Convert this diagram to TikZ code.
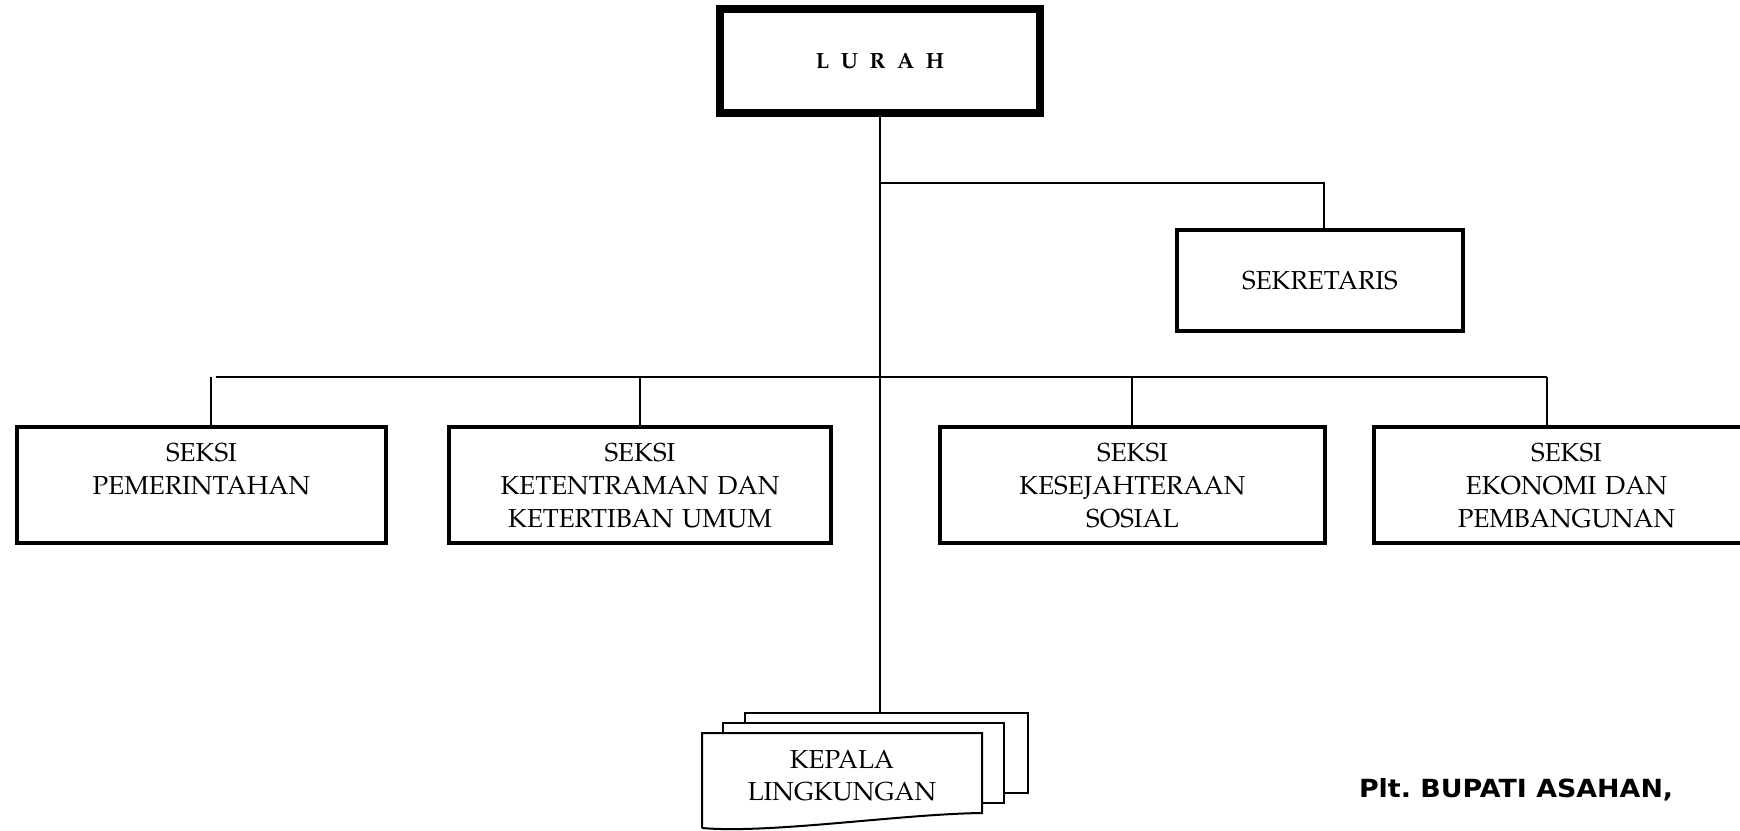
\documentclass[tikz,border=0pt]{standalone}
\usepackage[T1]{fontenc}
\usepackage{fontspec}
\usepackage{tikz}
\usetikzlibrary{arrows,positioning}
\newfontfamily\sigfont[FakeStretch=1.075]{DejaVu Sans}
\newcommand{\palfont}{\fontencoding{T1}\fontfamily{ppl}\selectfont}

\begin{document}
\begin{tikzpicture}[-,x=0.5pt,y=-0.5pt,line width=1pt,
	head/.style={draw=black,line width=4pt,rectangle,minimum width=160pt,minimum height=52pt,font=\palfont\fontsize{11}{13}\selectfont\bfseries},
	unit/.style={draw=black,line width=2pt,rectangle,inner xsep=2pt,inner ysep=8pt,align=center,text height=9pt,text depth=33pt,font=\palfont\fontsize{13}{16.5}\selectfont},
	sek/.style={draw=black,line width=2pt,rectangle,minimum width=143pt,minimum height=50.5pt,font=\palfont\fontsize{13}{15}\selectfont},
	page/.style={draw=black,fill=white,line width=1pt},
	lbl/.style={align=center,font=\palfont\fontsize{13}{16}\selectfont},
	sig/.style={inner sep=0pt,anchor=base west,font=\sigfont\fontsize{12.5}{15}\bfseries\selectfont\frenchspacing}]
	\useasboundingbox (0,0) rectangle (1740,830);

	\node[head]				(lurah)	at (880,61)			{\spaceskip=5.8pt\relax L U R A H};
	\node[sek]				(sekr)	at (1320,280.5)		{SEKRETARIS};
	\node[unit,text width=180.5pt]	(s1)	at (201.5,485)	{SEKSI\\PEMERINTAHAN};
	\node[unit,text width=187pt]	(s2)	at (640,485)		{SEKSI\\KETENTRAMAN DAN\\KETERTIBAN UMUM};
	\node[unit,text width=188.5pt]	(s4)	at (1132.5,485)	{SEKSI\\KESEJAHTERAAN\\SOSIAL};
	\node[unit,text width=188.5pt]	(s5)	at (1566.5,485)	{SEKSI\\EKONOMI DAN\\PEMBANGUNAN};

	% kepala lingkungan, three pages
	\filldraw[page] (745,793) -- (745,713) -- (1028,713) -- (1028,793) -- cycle;
	\filldraw[page] (723,803) -- (723,723) -- (1004,723) -- (1004,803) -- cycle;
	\filldraw[page] (702,828) -- (702,733) -- (982,733) -- (982,813) .. controls (900,814) and (770,834) .. (702,828);
	\node[lbl]				(kl)		at (842,776)		{KEPALA\\LINGKUNGAN};

	\node[sig]				(bupati)	at (1358,797)		{Plt. BUPATI ASAHAN,};

	\coordinate	(kltop)	at (880,713);
	\coordinate	(sekj)	at (880,183);
	\coordinate	(bus0)	at (216,377);
	\coordinate	(bus1)	at (211,377);
	\coordinate	(bus2)	at (640,377);
	\coordinate	(bus4)	at (1132,377);
	\coordinate	(bus5)	at (1547,377);

	\path
		(lurah)	edge	(kltop)
		(bus0)	edge	(bus5)
		(bus1)	edge	(bus1 |- s1.north)
		(bus2)	edge	(bus2 |- s2.north)
		(bus4)	edge	(bus4 |- s4.north)
		(bus5)	edge	(bus5 |- s5.north)
	;
	\draw (sekj) -| ([xshift=2pt]sekr.north);
\end{tikzpicture}
\end{document}
